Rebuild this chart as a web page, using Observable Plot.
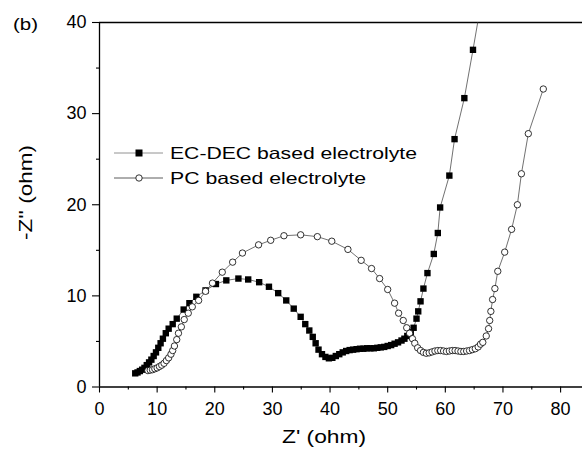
<!DOCTYPE html>
<html>
<head>
<meta charset="utf-8">
<script src="https://cdn.jsdelivr.net/npm/d3@7"></script>
<script src="https://cdn.jsdelivr.net/npm/@observablehq/plot@0.6"></script>
<style>
  html, body { margin: 0; padding: 0; background: #fff; }
  #chart { width: 582px; height: 450px; }
</style>
</head>
<body>
<div id="chart"></div>
<script>
// Impedance spectra (Nyquist form): Z' vs -Z'' in ohm
const ecDecZre = [6.2, 6.6, 7.0, 7.4, 7.8, 8.2, 8.6, 9.0, 9.4, 9.8, 10.2, 10.6, 11.0, 11.5, 12.0, 12.7,
  13.4, 14.6, 15.6, 16.8, 18.4, 20.2, 22.0, 24.1, 25.8, 27.7, 29.4, 31.0, 32.4, 33.7, 34.9, 35.7,
  36.4, 37.0, 37.5, 38.0, 38.6, 39.2, 39.8, 40.4, 41.0, 41.6, 42.2, 42.8, 43.4, 44.0, 44.6, 45.2,
  45.8, 46.4, 47.0, 47.6, 48.2, 48.8, 49.4, 50.0, 50.6, 51.2, 51.8, 52.4, 52.9, 53.4, 54.0, 54.5,
  55.0, 55.3, 55.7, 56.2, 56.9, 58.0, 58.7, 59.1, 60.7, 61.6, 63.3, 64.8, 66.3];
const ecDecZim = [1.5, 1.6, 1.75, 1.9, 2.1, 2.4, 2.7, 3.0, 3.4, 3.8, 4.3, 4.8, 5.3, 5.9, 6.4, 6.9,
  7.5, 8.5, 9.2, 9.9, 10.6, 11.3, 11.7, 11.9, 11.8, 11.5, 11.0, 10.3, 9.5, 8.6, 7.7, 6.9,
  6.2, 5.5, 4.8, 4.1, 3.6, 3.3, 3.15, 3.2, 3.4, 3.6, 3.8, 3.95, 4.05, 4.1, 4.15, 4.2,
  4.2, 4.25, 4.25, 4.25, 4.3, 4.35, 4.4, 4.5, 4.6, 4.75, 4.9, 5.1, 5.3, 5.6, 6.0, 6.5,
  7.5, 8.3, 9.4, 10.8, 12.5, 14.6, 16.9, 19.7, 23.2, 27.2, 31.7, 37.0, 42.5];

const pcZre = [8.4, 8.8, 9.2, 9.6, 10.0, 10.4, 10.8, 11.2, 11.6, 12.0, 12.4, 12.7, 13.0, 13.4, 13.7,
  14.2, 14.7, 15.4, 16.1, 17.2, 18.4, 19.6, 21.3, 23.1, 24.8, 27.6, 29.7, 32.0, 34.9, 37.8, 40.3,
  43.1, 45.4, 47.2, 48.6, 50.0, 51.2, 51.9, 52.7, 53.3, 53.8, 54.3, 54.7, 55.2, 55.7, 56.2, 56.7,
  57.2, 57.7, 58.2, 58.7, 59.2, 59.7, 60.2, 60.7, 61.2, 61.7, 62.2, 62.7, 63.2, 63.7, 64.2, 64.7,
  65.2, 65.7, 66.1, 66.5, 67.1, 67.5, 67.7, 67.9, 68.2, 68.6, 69.1, 70.3, 71.5, 72.5, 73.2, 74.4, 77.0];
const pcZim = [1.8, 1.85, 1.9, 2.0, 2.1, 2.25, 2.4, 2.6, 2.9, 3.2, 3.6, 4.0, 4.5, 5.2, 5.9,
  6.6, 7.4, 8.1, 8.8, 9.5, 10.5, 11.4, 12.6, 13.7, 14.7, 15.6, 16.1, 16.6, 16.7, 16.5, 16.0,
  15.1, 13.9, 13.0, 11.9, 10.7, 9.2, 8.1, 7.3, 6.5, 5.9, 5.3, 4.8, 4.3, 4.0, 3.8, 3.7,
  3.75, 3.85, 3.95, 4.0, 4.0, 3.95, 3.9, 3.95, 4.0, 4.0, 3.95, 3.9, 3.9, 3.95, 4.0, 4.1,
  4.2, 4.4, 4.7, 4.9, 5.6, 6.4, 7.3, 8.3, 9.6, 10.8, 12.7, 14.8, 17.3, 20.0, 23.4, 27.8, 32.7];

const seriesNames = ["EC-DEC based electrolyte", "PC based electrolyte"];
const xMajorTicks = [0, 10, 20, 30, 40, 50, 60, 70, 80];
const xMinorTicks = [5, 15, 25, 35, 45, 55, 65, 75];
const yMajorTicks = [0, 10, 20, 30, 40];
const yMinorTicks = [5, 15, 25, 35];
const xTitle = "Z' (ohm)";
const yTitle = "-Z'' (ohm)";
const panelTag = "(b)";

const xDomain = [0, 83.8];
const yDomain = [0, 40];

const ecDec = ecDecZre.map((x, i) => ({x, y: ecDecZim[i]}));
const pc = pcZre.map((x, i) => ({x, y: pcZim[i]}));
const inView = d => d.x >= xDomain[0] && d.x <= xDomain[1] && d.y >= yDomain[0] && d.y <= yDomain[1];

const font = "'Liberation Sans', Arial, Helvetica, sans-serif";

const chart = Plot.plot({
  width: 582,
  height: 450,
  marginLeft: 99,
  marginTop: 22,
  marginRight: 0,
  marginBottom: 63.5,
  x: {domain: xDomain},
  y: {domain: yDomain},
  style: {fontFamily: font, fontSize: "18px", color: "#000", background: "#fff"},
  marks: [
    // axes: labelled majors and short unlabelled minors
    Plot.axisX({ticks: xMajorTicks, tickSize: 6, tickPadding: 9, label: null, strokeWidth: 1.1, fontSize: 18}),
    Plot.axisX({ticks: xMinorTicks, tickSize: 3, label: null, tickFormat: () => "", strokeWidth: 1.1}),
    Plot.axisY({ticks: yMajorTicks, tickSize: 7, tickPadding: 6, label: null, strokeWidth: 1.1, fontSize: 18}),
    Plot.axisY({ticks: yMinorTicks, tickSize: 3, label: null, tickFormat: () => "", strokeWidth: 1.1}),
    // frame lines on left, bottom and top
    Plot.ruleX([xDomain[0]], {stroke: "#000", strokeWidth: 1.3}),
    Plot.ruleY([yDomain[0], yDomain[1]], {stroke: "#000", strokeWidth: 1.3}),
    // EC-DEC series
    Plot.line(ecDec, {x: "x", y: "y", stroke: "#333", strokeWidth: 0.7, clip: true}),
    Plot.dot(ecDec.filter(inView), {x: "x", y: "y", symbol: "square", r: 3.6, fill: "#000", stroke: "none"}),
    // PC series
    Plot.line(pc, {x: "x", y: "y", stroke: "#333", strokeWidth: 0.7, clip: true}),
    Plot.dot(pc.filter(inView), {x: "x", y: "y", symbol: "circle", r: 3.2, fill: "#fff", stroke: "#000", strokeWidth: 0.8})
  ]
});

document.getElementById("chart").appendChild(chart);

const svg = d3.select(chart);

// axis titles and panel tag
svg.append("text")
  .attr("x", 282).attr("y", 443)
  .attr("text-anchor", "start")
  .attr("font-family", font).attr("font-size", 19)
  .attr("textLength", 84).attr("lengthAdjust", "spacingAndGlyphs")
  .text(xTitle);

svg.append("text")
  .attr("transform", "translate(32,240) rotate(-90)")
  .attr("text-anchor", "start")
  .attr("font-family", font).attr("font-size", 19)
  .attr("textLength", 95).attr("lengthAdjust", "spacingAndGlyphs")
  .text(yTitle);

svg.append("text")
  .attr("x", 13).attr("y", 30)
  .attr("text-anchor", "start")
  .attr("font-family", font).attr("font-size", 17)
  .attr("textLength", 25).attr("lengthAdjust", "spacingAndGlyphs")
  .text(panelTag);

// legend
const legend = svg.append("g");
const rows = [
  {name: seriesNames[0], cy: 153, line: "#777", width: 247},
  {name: seriesNames[1], cy: 178, line: "#333", width: 196}
];
rows.forEach((row, i) => {
  legend.append("line")
    .attr("x1", 114).attr("x2", 163).attr("y1", row.cy).attr("y2", row.cy)
    .attr("stroke", row.line).attr("stroke-width", 0.8);
  if (i === 0) {
    legend.append("rect")
      .attr("x", 135.5).attr("y", row.cy - 3.5).attr("width", 7).attr("height", 7)
      .attr("fill", "#000");
  } else {
    legend.append("circle")
      .attr("cx", 139).attr("cy", row.cy).attr("r", 3.2)
      .attr("fill", "#fff").attr("stroke", "#000").attr("stroke-width", 0.8);
  }
  legend.append("text")
    .attr("x", 170).attr("y", row.cy + 5.5)
    .attr("text-anchor", "start")
    .attr("font-family", font).attr("font-size", 16.5)
    .attr("textLength", row.width).attr("lengthAdjust", "spacingAndGlyphs")
    .text(row.name);
});
</script>
</body>
</html>
